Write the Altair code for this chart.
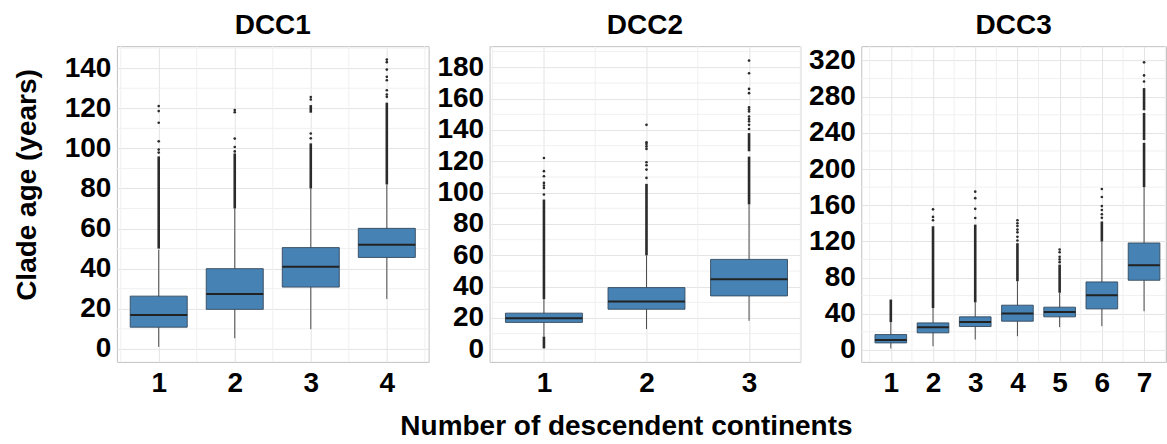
import altair as alt
import pandas as pd

FONT = "Liberation Sans"
BOX_FILL = "#4682B4"
INK = "#2b2b2b"

# ---------------- DCC1 ----------------
dcc1_cats = [1, 2, 3, 4]
dcc1_q1 = [10.8, 19.7, 30.8, 45.6]
dcc1_median = [16.9, 27.3, 40.9, 51.9]
dcc1_q3 = [26.3, 40.0, 50.5, 60.1]
dcc1_whisker_low = [1.0, 5.3, 9.8, 24.9]
dcc1_whisker_high = [49.5, 70.0, 80.0, 81.9]
# dense (overlapping) runs of outliers: category, low, high
dcc1_run_cat = [1, 2, 3, 3, 4]
dcc1_run_low = [50.0, 70.0, 80.0, 117.8, 82.0]
dcc1_run_high = [96.0, 97.5, 102.5, 121.6, 122.8]
# isolated outliers
dcc1_out_1 = [97.9, 99.4, 103.5, 112.8, 118.6, 121.1]
dcc1_out_2 = [98.5, 100.7, 104.9, 118.0, 119.1]
dcc1_out_3 = [105.0, 107.4, 124.4, 125.6]
dcc1_out_4 = [125.7, 126.9, 129.0, 134.0, 135.7, 139.3, 143.0, 144.3]

# ---------------- DCC2 ----------------
dcc2_cats = [1, 2, 3]
dcc2_q1 = [17.2, 25.6, 34.1]
dcc2_median = [19.9, 30.5, 44.7]
dcc2_q3 = [23.1, 39.4, 57.4]
dcc2_whisker_low = [8.4, 12.9, 18.2]
dcc2_whisker_high = [32.0, 60.0, 92.4]
dcc2_run_cat = [1, 1, 2, 3, 3]
dcc2_run_low = [32.0, 0.6, 60.0, 92.5, 126.4]
dcc2_run_high = [95.6, 8.2, 105.6, 123.0, 138.0]
dcc2_out_1 = [98.8, 103.0, 104.5, 106.2, 110.5, 113.7, 122.1]
dcc2_out_2 = [109.4, 114.7, 117.5, 119.4, 127.9, 129.5, 131.0, 132.1, 143.3]
dcc2_out_3 = [140.6, 143.3, 145.5, 147.0, 148.6, 151.8, 153.0, 154.4,
              163.5, 166.2, 176.2, 184.3]

# ---------------- DCC3 ----------------
dcc3_cats = [1, 2, 3, 4, 5, 6, 7]
dcc3_q1 = [7.7, 18.8, 25.8, 31.7, 36.5, 45.3, 77.0]
dcc3_median = [11.0, 25.0, 30.9, 40.1, 42.0, 60.4, 93.6]
dcc3_q3 = [16.9, 29.8, 36.5, 49.4, 47.2, 75.1, 118.2]
dcc3_whisker_low = [1.5, 4.0, 11.4, 15.1, 25.1, 26.2, 42.7]
dcc3_whisker_high = [30.7, 46.3, 52.5, 75.9, 63.2, 119.8, 180.0]
dcc3_run_cat = [1, 2, 3, 4, 5, 6, 7, 7, 7]
dcc3_run_low = [30.7, 46.3, 52.5, 75.9, 63.2, 119.8, 180.0, 232.0, 265.0]
dcc3_run_high = [55.6, 136.7, 138.5, 118.0, 94.3, 142.0, 229.0, 262.0, 289.5]
dcc3_out_2 = [143.4, 147.0, 155.4]
dcc3_out_3 = [145.8, 156.0, 167.8, 175.0]
dcc3_out_4 = [121.0, 125.0, 130.0, 133.0, 137.0, 140.0, 143.4]
dcc3_out_5 = [97.0, 100.0, 103.0, 108.0, 111.0]
dcc3_out_6 = [146.0, 150.0, 154.7, 159.0, 169.0, 177.9]
dcc3_out_7 = [296.8, 303.5, 318.0]

BOX_HALF = 0.375
GRID_MAJOR = "#e4e4e4"
GRID_MINOR = "#f0f0f0"
TICK_SIZE = 28


def make_panel(title, cats, q1, med, q3, wlo, whi, run_cat, run_lo, run_hi,
               outliers, xdom, ydom, ymajor, yminor, width, ytitle=False,
               xtitle=None):
    box = pd.DataFrame({"cat": cats, "q1": q1, "median": med, "q3": q3,
                        "wlo": wlo, "whi": whi})
    runs = pd.DataFrame({"cat": run_cat, "lo": run_lo, "hi": run_hi})
    pts = pd.DataFrame([{"cat": c, "value": v}
                        for c, vals in outliers.items() for v in vals])
    # minor (between-category) vertical grid positions
    mids = pd.DataFrame({"m": [c - 0.5 for c in cats] + [cats[-1] + 0.5]})

    ymajors = list(range(0, int(ydom[1]) + 1, ymajor))
    yminors = [v for v in range(0, int(ydom[1]) + 1, yminor)
               if v % ymajor != 0]

    xscale = alt.Scale(domain=xdom, nice=False, zero=False)
    yscale = alt.Scale(domain=ydom, nice=False, zero=False)

    xkw = dict(values=cats, format="d", grid=True, gridColor=GRID_MAJOR,
               gridWidth=1, ticks=False, tickSize=0, domain=False,
               labelPadding=8, labelFlush=False,
               labelFont=FONT, labelFontWeight="bold", labelFontSize=TICK_SIZE,
               labelColor="black")
    if xtitle:
        xkw.update(title=xtitle, titleFont=FONT, titleFontWeight="bold",
                   titleFontSize=28, titleColor="black", titleX=136.5,
                   titleY=73, titleAlign="center", titleBaseline="alphabetic")
    else:
        xkw.update(title=None)
    xaxis = alt.Axis(**xkw)

    ykw = dict(values=ymajors, format="d", grid=True, gridColor=GRID_MAJOR,
               gridWidth=1, ticks=False, tickSize=0, domain=False,
               labelPadding=6, labelFlush=False,
               labelFont=FONT, labelFontWeight="bold", labelFontSize=TICK_SIZE,
               labelColor="black")
    if ytitle:
        ykw.update(title="Clade age (years)", titleFont=FONT,
                   titleFontWeight="bold", titleFontSize=28,
                   titleColor="black", titleAngle=270, titleAlign="center",
                   titleBaseline="middle", titleX=-89.5, titleY=138.5)
    else:
        ykw.update(title=None)
    yaxis = alt.Axis(**ykw)

    def X(f):
        return alt.X(f, type="quantitative", scale=xscale, axis=xaxis)

    def Y(f):
        return alt.Y(f, type="quantitative", scale=yscale, axis=yaxis)

    vgrid = alt.Chart(mids).mark_rule(color=GRID_MINOR, strokeWidth=1).encode(
        x=X("m"))
    hgrid = alt.Chart(pd.DataFrame({"h": yminors})).mark_rule(
        color=GRID_MINOR, strokeWidth=1).encode(y=Y("h"))
    whisk = alt.Chart(box).mark_rule(color="#4a4a4a", strokeWidth=1).encode(
        x=X("cat"), y=Y("wlo"), y2="whi")
    run_layer = alt.Chart(runs).mark_rule(color=INK, strokeWidth=2.6).encode(
        x=X("cat"), y=Y("lo"), y2="hi")
    pt_layer = alt.Chart(pts).mark_circle(size=7, color=INK, opacity=1).encode(
        x=X("cat"), y=Y("value"))
    rect = alt.Chart(box).transform_calculate(
        left=f"datum.cat - {BOX_HALF}", right=f"datum.cat + {BOX_HALF}"
    ).mark_rect(fill=BOX_FILL, stroke="#34495e", strokeWidth=0.9).encode(
        x=X("left"), x2="right", y=Y("q1"), y2="q3")
    med_layer = alt.Chart(box).transform_calculate(
        left=f"datum.cat - {BOX_HALF}", right=f"datum.cat + {BOX_HALF}"
    ).mark_rule(color="#222222", strokeWidth=2).encode(
        x=X("left"), x2="right", y=Y("median"))

    return alt.layer(vgrid, hgrid, whisk, run_layer, pt_layer, rect,
                     med_layer).properties(
        width=width, height=316,
        title=alt.TitleParams(title, font=FONT, fontWeight="bold", fontSize=28,
                              color="black", anchor="middle", offset=6))


p1 = make_panel("DCC1", dcc1_cats, dcc1_q1, dcc1_median, dcc1_q3,
                dcc1_whisker_low, dcc1_whisker_high,
                dcc1_run_cat, dcc1_run_low, dcc1_run_high,
                {1: dcc1_out_1, 2: dcc1_out_2, 3: dcc1_out_3, 4: dcc1_out_4},
                [0.45, 4.55], [-6.5, 151], 20, 10, 312, ytitle=True)
p2 = make_panel("DCC2", dcc2_cats, dcc2_q1, dcc2_median, dcc2_q3,
                dcc2_whisker_low, dcc2_whisker_high,
                dcc2_run_cat, dcc2_run_low, dcc2_run_high,
                {1: dcc2_out_1, 2: dcc2_out_2, 3: dcc2_out_3},
                [0.47, 3.5], [-8, 193.5], 20, 10, 311,
                xtitle="Number of descendent continents")
p3 = make_panel("DCC3", dcc3_cats, dcc3_q1, dcc3_median, dcc3_q3,
                dcc3_whisker_low, dcc3_whisker_high,
                dcc3_run_cat, dcc3_run_low, dcc3_run_high,
                {2: dcc3_out_2, 3: dcc3_out_3, 4: dcc3_out_4, 5: dcc3_out_5,
                 6: dcc3_out_6, 7: dcc3_out_7},
                [0.3, 7.52], [-13.3, 335.9], 40, 20, 305)

chart = alt.hconcat(p1, p2, p3, spacing=61, bounds="flush").properties(
    padding={"left": 13, "top": 11, "right": 0, "bottom": 0},
    background="white",
).configure_view(stroke="#c2c2c2", strokeWidth=1)

chart.save("out.html", embed_options={"renderer": "svg", "actions": False})
